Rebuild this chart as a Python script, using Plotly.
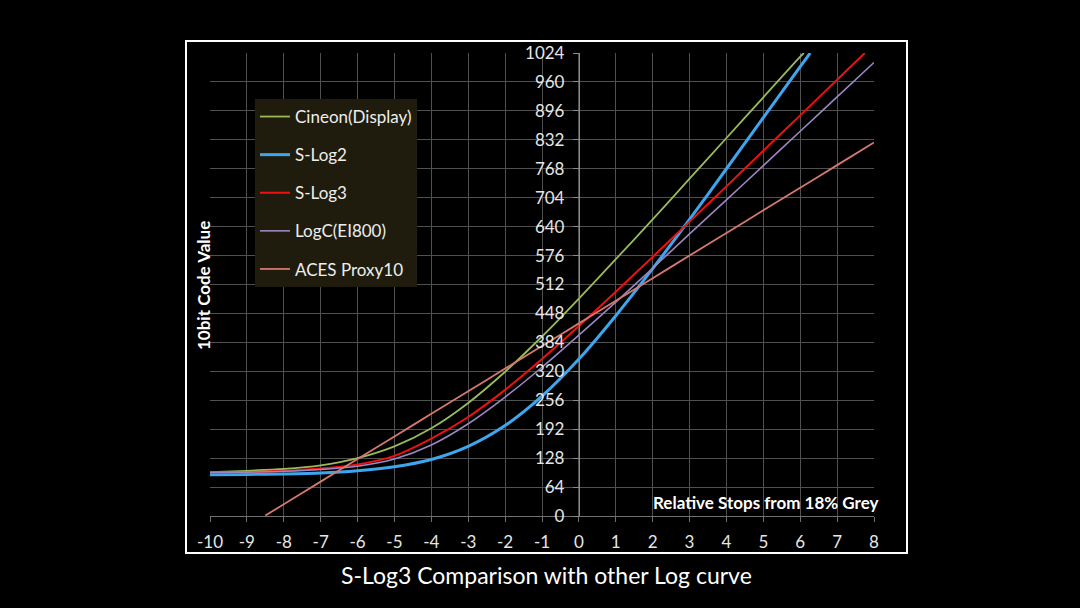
import plotly.graph_objects as go

# relative stops from 18% grey
stops = [-10, -9, -8, -7, -6, -5, -4, -3, -2, -1, 0, 1, 2, 3, 4, 5, 6, 7, 8]
stop_labels = ["-10", "-9", "-8", "-7", "-6", "-5", "-4", "-3", "-2", "-1",
               "0", "1", "2", "3", "4", "5", "6", "7", "8"]
y_ticks = [0, 64, 128, 192, 256, 320, 384, 448, 512, 576, 640, 704, 768, 832, 896, 960, 1024]

# 10bit code values (last point = where the curve leaves the top)
cineon_x = [-10, -9, -8, -7, -6, -5, -4, -3, -2, -1, 0, 1, 2, 3, 4, 5, 6, 6.1]
cineon_y = [97, 100, 104, 112, 128, 154, 194, 250, 319, 397, 481, 568, 656, 746, 836, 926, 1016, 1024]

slog2_x = [-10, -9, -8, -7, -6, -5, -4, -3, -2, -1, 0, 1, 2, 3, 4, 5, 6, 6.27]
slog2_y = [91, 92, 93, 95, 100, 109, 125, 154, 200, 265, 347, 443, 547, 656, 768, 881, 994, 1024]

slog3_x = [-10, -9, -8, -7, -6, -5, -4, -3, -2, -1, 0, 1, 2, 3, 4, 5, 6, 7, 7.75]
slog3_y = [96, 97, 100, 105, 114, 133, 171, 219, 279, 347, 420, 496, 573, 651, 729, 808, 886, 965, 1024]

logc_x = stops
logc_y = [96, 97, 99, 103, 110, 126, 157, 204, 263, 329, 400, 473, 548, 624, 699, 775, 851, 927, 1003]

aces_x = [-8.5, -8, -7, -6, -5, -4, -3, -2, -1, 0, 1, 2, 3, 4, 5, 6, 7, 8]
aces_y = [1, 26, 76, 126, 176, 226, 276, 326, 376, 426, 476, 526, 576, 626, 676, 726, 776, 826]

series = [
    ("Cineon(Display)", cineon_x, cineon_y, "#9bbb59", 1.8),
    ("S-Log2", slog2_x, slog2_y, "#3ea6ee", 3),
    ("S-Log3", slog3_x, slog3_y, "#ee1111", 2),
    ("LogC(EI800)", logc_x, logc_y, "#9c86c2", 1.6),
    ("ACES Proxy10", aces_x, aces_y, "#d47870", 1.8),
]

FONT = "Lato, 'Open Sans', sans-serif"

fig = go.Figure()
for i, (name, xs, ys, col, w) in enumerate(series):
    fig.add_trace(go.Scatter(
        x=xs, y=ys, mode="lines", name=name, legendgroup=str(i),
        line=dict(color=col, width=w, shape="spline", smoothing=0.8),
    ))

# plot area in pixels: x 210..874, y 53..516
L, R, T, B = 210, 874, 53, 516
W, H = R - L, B - T

def px(x):
    return (x - L) / W

def py(y):
    return (B - y) / H

fig.update_layout(
    width=1080, height=608,
    margin=dict(l=L, r=1080 - R, t=T, b=608 - B),
    paper_bgcolor="black", plot_bgcolor="black",
    font=dict(family=FONT, color="#e6e6e6", size=16),
    showlegend=True,
    legend=dict(
        x=px(255), y=py(99), xanchor="left", yanchor="top",
        bgcolor="#1f1c0d", font=dict(size=17, color="#eeeeee"),
        tracegroupgap=13, itemwidth=30,
    ),
    xaxis=dict(
        range=[-10, 8], tickmode="array", tickvals=stops, ticktext=stop_labels,
        showgrid=True, gridcolor="#505050", gridwidth=1,
        zeroline=False, showline=True, linecolor="#707070",
        ticks="outside", ticklen=5, tickcolor="#707070",
        tickfont=dict(size=17, color="#e6e6e6"), ticklabelstandoff=6,
    ),
    yaxis=dict(
        range=[0, 1024], tickmode="array", tickvals=y_ticks,
        showgrid=True, gridcolor="#505050", gridwidth=1,
        zeroline=False, showline=True, linecolor="#8a8a8a",
        anchor="free", position=10 / 18, side="left",
        ticks="outside", ticklen=6, tickcolor="#8a8a8a",
        tickfont=dict(size=17, color="#e6e6e6"), ticklabelstandoff=5,
    ),
)

# white frame round the chart
fig.add_shape(type="rect", xref="paper", yref="paper",
              x0=px(186), x1=px(907), y0=py(553), y1=py(41),
              line=dict(color="white", width=2))

fig.add_annotation(text="<b>10bit Code Value</b>", xref="paper", yref="paper",
                   x=px(203), y=py(286), xanchor="center", yanchor="middle",
                   textangle=-90, showarrow=False,
                   font=dict(size=17, color="white"))
fig.add_annotation(text="<b>Relative Stops from 18% Grey</b>", xref="paper", yref="paper",
                   x=px(766), y=py(502), xanchor="center", yanchor="middle",
                   showarrow=False, font=dict(size=17, color="white"))
fig.add_annotation(text="S-Log3 Comparison with other Log curve", xref="paper", yref="paper",
                   x=px(546), y=py(575), xanchor="center", yanchor="middle",
                   showarrow=False, font=dict(size=23, color="white"))

fig.write_html(
    "out.html",
    config={"displayModeBar": False},
    post_script="document.body.style.margin='0';document.body.style.background='black';",
)
